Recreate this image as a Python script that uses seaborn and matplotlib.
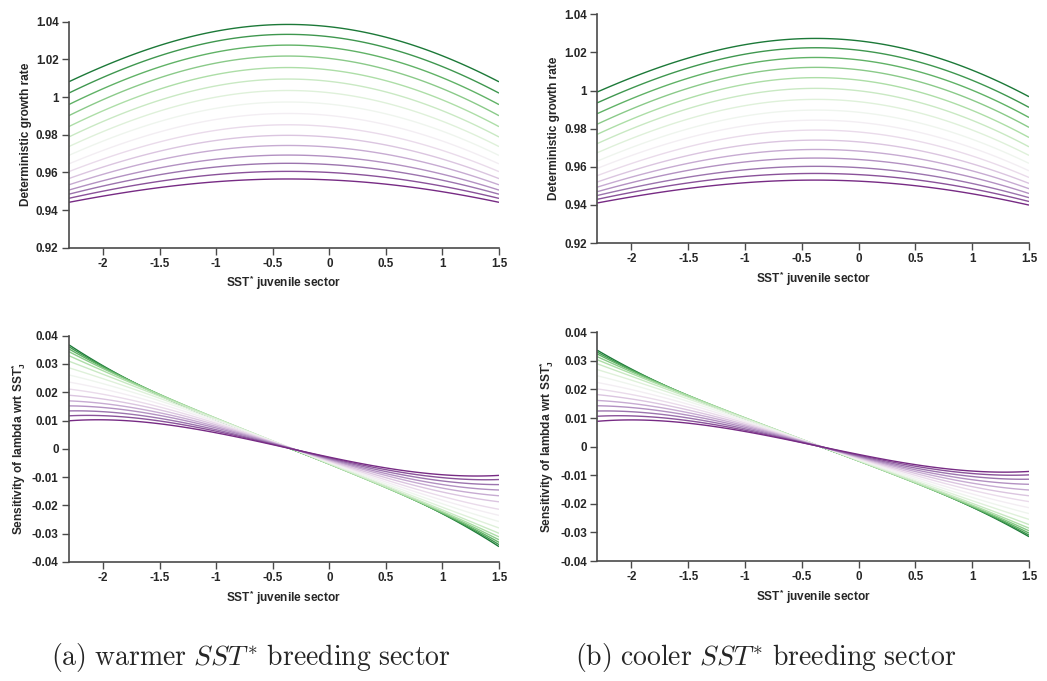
import numpy as np
import pandas as pd
import matplotlib
matplotlib.use("Agg")
import matplotlib.pyplot as plt
import seaborn as sns
from matplotlib.ticker import FuncFormatter

# ---------------- data ----------------
x_points = [-2.3, -2.0, -1.5, -1.0, -0.5, 0.0, 0.5, 1.0, 1.5]

# Deterministic growth rate, one list per curve (dark green -> dark purple)
growth_warmer = [
    [1.0081, 1.0163, 1.0273, 1.0349, 1.0385, 1.0372, 1.0319, 1.0218, 1.0081],
    [1.0021, 1.0105, 1.0218, 1.0296, 1.0332, 1.0319, 1.0264, 1.0161, 1.0021],
    [0.9960, 1.0045, 1.0159, 1.0238, 1.0275, 1.0262, 1.0206, 1.0102, 0.9960],
    [0.9901, 0.9987, 1.0101, 1.0180, 1.0217, 1.0204, 1.0148, 1.0044, 0.9901],
    [0.9843, 0.9928, 1.0041, 1.0119, 1.0156, 1.0143, 1.0088, 0.9984, 0.9843],
    [0.9788, 0.9871, 0.9982, 1.0059, 1.0095, 1.0082, 1.0028, 0.9927, 0.9788],
    [0.9737, 0.9817, 0.9925, 0.9999, 1.0034, 1.0022, 0.9969, 0.9871, 0.9737],
    [0.9690, 0.9767, 0.9869, 0.9940, 0.9973, 0.9961, 0.9912, 0.9818, 0.9690],
    [0.9645, 0.9717, 0.9814, 0.9881, 0.9912, 0.9901, 0.9854, 0.9766, 0.9645],
    [0.9604, 0.9671, 0.9761, 0.9823, 0.9852, 0.9842, 0.9798, 0.9716, 0.9604],
    [0.9567, 0.9629, 0.9712, 0.9769, 0.9796, 0.9787, 0.9746, 0.9670, 0.9567],
    [0.9534, 0.9590, 0.9666, 0.9718, 0.9742, 0.9734, 0.9697, 0.9628, 0.9534],
    [0.9506, 0.9556, 0.9623, 0.9670, 0.9691, 0.9684, 0.9651, 0.9590, 0.9506],
    [0.9484, 0.9528, 0.9587, 0.9628, 0.9648, 0.9641, 0.9612, 0.9558, 0.9484],
    [0.9462, 0.9501, 0.9552, 0.9588, 0.9605, 0.9599, 0.9574, 0.9526, 0.9462],
    [0.9441, 0.9474, 0.9519, 0.9550, 0.9565, 0.9559, 0.9538, 0.9497, 0.9441],
]

growth_cooler = [
    [0.9992, 1.0068, 1.0170, 1.0240, 1.0273, 1.0260, 1.0207, 1.0106, 0.9968],
    [0.9935, 1.0013, 1.0118, 1.0190, 1.0224, 1.0211, 1.0156, 1.0053, 0.9912],
    [0.9878, 0.9958, 1.0064, 1.0138, 1.0173, 1.0160, 1.0105, 1.0001, 0.9859],
    [0.9823, 0.9904, 1.0011, 1.0086, 1.0121, 1.0108, 1.0053, 0.9949, 0.9807],
    [0.9770, 0.9850, 0.9958, 1.0032, 1.0067, 1.0054, 0.9999, 0.9895, 0.9754],
    [0.9721, 0.9800, 0.9904, 0.9977, 1.0011, 0.9998, 0.9944, 0.9843, 0.9705],
    [0.9673, 0.9749, 0.9850, 0.9920, 0.9953, 0.9941, 0.9889, 0.9792, 0.9660],
    [0.9629, 0.9702, 0.9798, 0.9866, 0.9897, 0.9885, 0.9836, 0.9744, 0.9618],
    [0.9591, 0.9660, 0.9751, 0.9815, 0.9844, 0.9833, 0.9786, 0.9699, 0.9579],
    [0.9553, 0.9618, 0.9704, 0.9764, 0.9792, 0.9782, 0.9738, 0.9656, 0.9544],
    [0.9520, 0.9579, 0.9659, 0.9714, 0.9739, 0.9730, 0.9690, 0.9615, 0.9513],
    [0.9493, 0.9546, 0.9618, 0.9667, 0.9690, 0.9682, 0.9646, 0.9578, 0.9485],
    [0.9469, 0.9517, 0.9581, 0.9625, 0.9645, 0.9638, 0.9605, 0.9544, 0.9460],
    [0.9449, 0.9490, 0.9545, 0.9584, 0.9602, 0.9595, 0.9566, 0.9512, 0.9438],
    [0.9429, 0.9466, 0.9515, 0.9549, 0.9565, 0.9558, 0.9533, 0.9484, 0.9418],
    [0.9410, 0.9442, 0.9486, 0.9516, 0.9530, 0.9524, 0.9501, 0.9458, 0.9399],
]

# Sensitivity, one list per x point (16 curves, dark green -> dark purple)
sens_warmer_by_x = [
    [0.0364, 0.0357, 0.0349, 0.0339, 0.0324, 0.0304, 0.0280, 0.0255, 0.0230, 0.0206, 0.0185, 0.0166, 0.0149, 0.0132, 0.0116, 0.0100],
    [0.0300, 0.0298, 0.0295, 0.0291, 0.0284, 0.0272, 0.0257, 0.0239, 0.0220, 0.0200, 0.0182, 0.0165, 0.0150, 0.0134, 0.0118, 0.0101],
    [0.0190, 0.0192, 0.0194, 0.0195, 0.0194, 0.0190, 0.0183, 0.0174, 0.0163, 0.0151, 0.0140, 0.0129, 0.0119, 0.0108, 0.0098, 0.0088],
    [0.0097, 0.0099, 0.0100, 0.0101, 0.0101, 0.0100, 0.0098, 0.0095, 0.0091, 0.0087, 0.0083, 0.0079, 0.0075, 0.0070, 0.0066, 0.0061],
    [0.0020, 0.0021, 0.0021, 0.0021, 0.0021, 0.0021, 0.0020, 0.0020, 0.0019, 0.0018, 0.0017, 0.0016, 0.0015, 0.0014, 0.0013, 0.0013],
    [-0.0045, -0.0046, -0.0046, -0.0046, -0.0046, -0.0045, -0.0044, -0.0043, -0.0042, -0.0040, -0.0039, -0.0037, -0.0036, -0.0035, -0.0033, -0.0032],
    [-0.0128, -0.0129, -0.0130, -0.0130, -0.0129, -0.0127, -0.0123, -0.0118, -0.0112, -0.0106, -0.0099, -0.0092, -0.0086, -0.0079, -0.0073, -0.0067],
    [-0.0240, -0.0239, -0.0238, -0.0236, -0.0232, -0.0225, -0.0214, -0.0200, -0.0185, -0.0170, -0.0153, -0.0138, -0.0124, -0.0111, -0.0099, -0.0089],
    [-0.0342, -0.0335, -0.0327, -0.0318, -0.0308, -0.0296, -0.0278, -0.0256, -0.0235, -0.0214, -0.0188, -0.0167, -0.0147, -0.0128, -0.0110, -0.0095],
]

sens_cooler_by_x = [
    [0.0335, 0.0328, 0.0321, 0.0311, 0.0300, 0.0286, 0.0266, 0.0245, 0.0222, 0.0200, 0.0181, 0.0161, 0.0143, 0.0125, 0.0107, 0.0090],
    [0.0276, 0.0274, 0.0272, 0.0268, 0.0262, 0.0252, 0.0238, 0.0221, 0.0203, 0.0185, 0.0168, 0.0152, 0.0137, 0.0122, 0.0107, 0.0092],
    [0.0176, 0.0178, 0.0179, 0.0180, 0.0179, 0.0175, 0.0169, 0.0160, 0.0150, 0.0139, 0.0129, 0.0119, 0.0109, 0.0099, 0.0089, 0.0080],
    [0.0092, 0.0094, 0.0095, 0.0095, 0.0095, 0.0094, 0.0092, 0.0089, 0.0085, 0.0081, 0.0077, 0.0073, 0.0069, 0.0064, 0.0060, 0.0056],
    [0.0023, 0.0023, 0.0023, 0.0023, 0.0023, 0.0022, 0.0022, 0.0021, 0.0021, 0.0020, 0.0019, 0.0018, 0.0017, 0.0016, 0.0015, 0.0015],
    [-0.0044, -0.0045, -0.0045, -0.0045, -0.0045, -0.0044, -0.0043, -0.0042, -0.0041, -0.0039, -0.0038, -0.0036, -0.0035, -0.0033, -0.0031, -0.0029],
    [-0.0122, -0.0123, -0.0123, -0.0123, -0.0122, -0.0120, -0.0116, -0.0111, -0.0105, -0.0099, -0.0093, -0.0087, -0.0081, -0.0075, -0.0069, -0.0064],
    [-0.0219, -0.0218, -0.0217, -0.0215, -0.0211, -0.0204, -0.0194, -0.0182, -0.0168, -0.0154, -0.0140, -0.0127, -0.0115, -0.0104, -0.0093, -0.0084],
    [-0.0312, -0.0307, -0.0300, -0.0292, -0.0283, -0.0271, -0.0253, -0.0233, -0.0213, -0.0192, -0.0172, -0.0152, -0.0132, -0.0114, -0.0099, -0.0087],
]

x_ticks = [-2, -1.5, -1, -0.5, 0, 0.5, 1, 1.5]
growth_ticks = [0.92, 0.94, 0.96, 0.98, 1.0, 1.02, 1.04]
sens_ticks = [-0.04, -0.03, -0.02, -0.01, 0.0, 0.01, 0.02, 0.03, 0.04]
captions = [r"$\mathrm{(a)\ warmer\ }SST^{*}\mathrm{\ breeding\ sector}$",
            r"$\mathrm{(b)\ cooler\ }SST^{*}\mathrm{\ breeding\ sector}$"]
xlabel_text = r"SST$^{*}$ juvenile sector"
growth_label = "Deterministic growth rate"
sens_label = r"Sensitivity of lambda wrt SST$^{*}_{J}$"

# ---------------- long-form table ----------------
rows = []
for panel, curves in (("gw", growth_warmer), ("gc", growth_cooler)):
    for k, vals in enumerate(curves):
        for xv, yv in zip(x_points, vals):
            rows.append((panel, k, xv, yv))
for panel, by_x in (("sw", sens_warmer_by_x), ("sc", sens_cooler_by_x)):
    for xv, vals in zip(x_points, by_x):
        for k, yv in enumerate(vals):
            rows.append((panel, k, xv, yv))
df = pd.DataFrame(rows, columns=["panel", "curve", "x", "y"])

# ---------------- style ----------------
sns.set_style("ticks")
plt.rcParams["font.family"] = ["Liberation Sans", "DejaVu Sans"]
plt.rcParams["font.weight"] = "bold"
plt.rcParams["axes.labelweight"] = "bold"
plt.rcParams["axes.unicode_minus"] = False
plt.rcParams["mathtext.fontset"] = "custom"
plt.rcParams["mathtext.rm"] = "Liberation Sans:bold"
plt.rcParams["mathtext.it"] = "Liberation Sans:bold"
plt.rcParams["mathtext.bf"] = "Liberation Sans:bold"

palette = sns.color_palette("PRGn_r", 18)[1:17]

W, H = 1047, 681
fig = plt.figure(figsize=(W / 100, H / 100), dpi=100)

def frac(l, t, r, b):
    return [l / W, 1 - b / H, (r - l) / W, (b - t) / H]

axes_spec = {
    "gw": frac(69, 21.7, 499, 247.7),
    "gc": frac(597.3, 14.3, 1029, 243),
    "sw": frac(69, 335.7, 499, 562),
    "sc": frac(597.3, 332.3, 1029, 561),
}

fmt = FuncFormatter(lambda v, _: "%g" % (round(v, 4) + 0.0))

for panel, rect in axes_spec.items():
    ax = fig.add_axes(rect)
    sub = df[df.panel == panel]
    order = 4 if panel.startswith("g") else 3
    for k in range(16):
        d = sub[sub.curve == k]
        sns.regplot(data=d, x="x", y="y", order=order, scatter=False, ci=None,
                    truncate=True, color=palette[k],
                    line_kws=dict(lw=1.0, solid_capstyle="butt"), ax=ax)
    ax.set_xlim(-2.3, 1.5)
    ax.set_xticks(x_ticks)
    if panel.startswith("g"):
        ax.set_ylim(0.92, 1.04)
        ax.set_yticks(growth_ticks)
        ax.set_ylabel(growth_label, fontsize=8.6, labelpad=3)
    else:
        ax.set_ylim(-0.04, 0.04)
        ax.set_yticks(sens_ticks)
        ax.set_ylabel(sens_label, fontsize=8.6, labelpad=3)
    ax.xaxis.set_major_formatter(fmt)
    ax.yaxis.set_major_formatter(fmt)
    ax.set_xlabel(xlabel_text, fontsize=8.6, labelpad=3)
    for s in ("top", "right"):
        ax.spines[s].set_visible(False)
    for s in ("left", "bottom"):
        ax.spines[s].set_color("#4a4a4a")
        ax.spines[s].set_linewidth(1.2)
    ax.tick_params(direction="out", length=5, width=1.0, color="#4a4a4a",
                   labelsize=8.4, pad=2.5)
    for lab in ax.get_xticklabels() + ax.get_yticklabels():
        lab.set_fontweight("bold")

fig.text(251 / W, 1 - 657 / H, captions[0], ha="center", va="center",
         fontsize=20, math_fontfamily="cm")
fig.text(766 / W, 1 - 657 / H, captions[1], ha="center", va="center",
         fontsize=20, math_fontfamily="cm")

fig.savefig("out.png", dpi=100)
